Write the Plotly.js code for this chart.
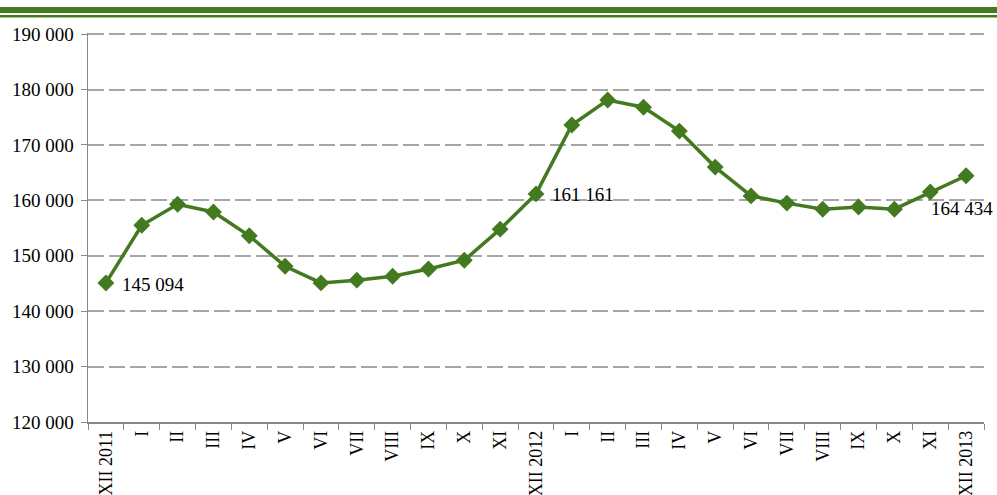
<!DOCTYPE html>
<html><head><meta charset="utf-8">
<script src="https://cdn.plot.ly/plotly-3.0.1.min.js"></script>
<style>html,body{margin:0;padding:0;background:#fff}#chart{width:997px;height:495px}</style>
</head><body><div id="chart"></div>
<script>
const categories = ["XII 2011","I","II","III","IV","V","VI","VII","VIII","IX","X","XI","XII 2012","I ","II ","III ","IV ","V ","VI ","VII ","VIII ","IX ","X ","XI ","XII 2013"];
const tickLabels = ["XII 2011","I","II","III","IV","V","VI","VII","VIII","IX","X","XI","XII 2012","I","II","III","IV","V","VI","VII","VIII","IX","X","XI","XII 2013"];
const values = [145094,155500,159300,157900,153600,148100,145100,145600,146300,147600,149200,154800,161161,173600,178100,176800,172500,166000,160800,159500,158400,158800,158400,161500,164434];
const labelledIdx = [0,12,24];

function fmt(v){return String(v).replace(/\B(?=(\d{3})+(?!\d))/g,"\u00a0");}
const labelStyle = [
  {xanchor:"left",yanchor:"middle",xshift:14,yshift:-2},
  {xanchor:"left",yanchor:"middle",xshift:14,yshift:-1},
  {xanchor:"center",yanchor:"middle",xshift:-4,yshift:-33}
];
const annotations = labelledIdx.map((i,k)=>Object.assign({
  x:categories[i], y:values[i], xref:"x", yref:"y", text:fmt(values[i]), showarrow:false,
  font:{family:"Liberation Serif, serif",size:19,color:"#000"}
}, labelStyle[k]));

const green = "#437a1f";
const trace = {
  x: categories, y: values, type:"scatter", mode:"lines+markers",
  line:{color:green,width:3.5},
  marker:{symbol:"diamond",size:13,color:green},
  cliponaxis:false, hoverinfo:"none"
};
const H = 389;
const layout = {
  width:997,height:495,
  margin:{l:88,r:13,t:33,b:73},
  paper_bgcolor:"#fff",plot_bgcolor:"#fff",
  showlegend:false,
  separators:". ",
  font:{family:"Liberation Serif, serif",size:18,color:"#000"},
  xaxis:{type:"category",range:[-0.5,24.5],tickmode:"array",tickvals:categories,ticktext:tickLabels,
    tickangle:-90,ticks:"outside",tickson:"boundaries",ticklen:6,tickcolor:"#868686",
    showline:true,linecolor:"#868686",linewidth:1.5,showgrid:false,zeroline:false,
    tickfont:{family:"Liberation Serif, serif",size:18,color:"#000"}},
  yaxis:{range:[120000,190200],tick0:120000,dtick:10000,tickformat:",d",ticks:"outside",ticklen:6,tickcolor:"#868686",
    ticklabelstandoff:3,
    showline:true,linecolor:"#868686",linewidth:1.5,showgrid:true,gridcolor:"#a6a6a6",gridwidth:2,
    griddash:"16px,5px",zeroline:false,
    tickfont:{family:"Liberation Serif, serif",size:19,color:"#000"}},
  annotations: annotations,
  shapes:[
    {type:"rect",xref:"paper",yref:"paper",x0:-0.1,x1:1.02,y0:(422-13)/H,y1:(422-7)/H,fillcolor:green,line:{width:0}},
    {type:"rect",xref:"paper",yref:"paper",x0:-0.1,x1:1.02,y0:(422-17.5)/H,y1:(422-15)/H,fillcolor:green,line:{width:0}}
  ]
};
Plotly.newPlot("chart",[trace],layout,{staticPlot:true,displayModeBar:false});
</script></body></html>
